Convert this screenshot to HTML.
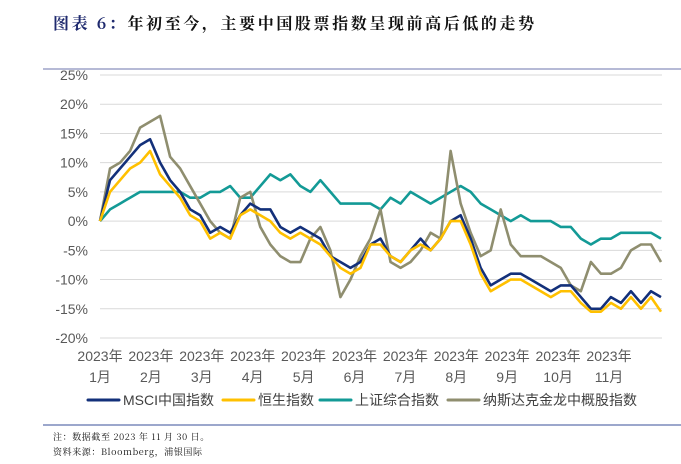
<!DOCTYPE html>
<html><head><meta charset="utf-8">
<style>
body{margin:0;background:#fff;width:681px;height:459px;overflow:hidden;font-family:"Liberation Sans","Noto Sans CJK SC",sans-serif}
svg text{font-family:"Liberation Sans","Noto Sans CJK SC",sans-serif}
</style></head><body>
<svg width="681" height="459">
<text x="53" y="29" font-size="16" font-weight="bold" fill="#1f2a6e" letter-spacing="2.6" style="font-family:'Noto Serif CJK SC',serif">图表 6：<tspan fill="#111">年初至今，主要中国股票指数呈现前高后低的走势</tspan></text>
<line x1="43" y1="69" x2="681" y2="69" stroke="#9da3c8" stroke-width="1.5"/>
<g id="grid"></g><g id="series"></g><g id="xlab"></g>
<g id="legend"></g>
<line x1="43" y1="425" x2="681" y2="425" stroke="#3a4f9a" stroke-width="1"/>
<text x="53" y="440" font-size="9" fill="#111" letter-spacing="0.6" style="font-family:'Noto Serif CJK SC',serif">注：数据截至 2023 年 11 月 30 日。</text>
<text x="53" y="455" font-size="9" fill="#111" letter-spacing="0.6" style="font-family:'Noto Serif CJK SC',serif">资料来源：Bloomberg，浦银国际</text>
</svg>
<script>
const yTicks=[25,20,15,10,5,0,-5,-10,-15,-20];
const months=["1月","2月","3月","4月","5月","6月","7月","8月","9月","10月","11月"];
const msci=[0,7,9,11,13,14,10,7,5,2,1,-2,-1,-2,1,3,2,2,-1,-2,-1,-2,-3,-6,-7,-8,-7,-4,-3,-6,-7,-5,-3,-5,-3,0,1,-3,-8,-11,-10,-9,-9,-10,-11,-12,-11,-11,-13,-15,-15,-13,-14,-12,-14,-12,-13];
const hsi=[0,5,7,9,10,12,8,6,4,1,0,-3,-2,-3,1,2,1,0,-2,-3,-2,-3,-4,-6,-8,-9,-8,-4,-4,-6,-7,-5,-4,-5,-3,0,0,-4,-9,-12,-11,-10,-10,-11,-12,-13,-12,-12,-14,-15.5,-15.5,-14,-15,-13,-15,-13,-15.5];
const shcomp=[0,2,3,4,5,5,5,5,5,4,4,5,5,6,4,4,6,8,7,8,6,5,7,5,3,3,3,3,2,4,3,5,4,3,4,5,6,5,3,2,1,0,1,0,0,0,-1,-1,-3,-4,-3,-3,-2,-2,-2,-2,-3];
const nasdaq=[0,9,10,12,16,17,18,11,9,6,3,0,-2,-3,4,5,-1,-4,-6,-7,-7,-3,-1,-5,-13,-10,-6,-3,2,-7,-8,-7,-5,-2,-3,12,3,-2,-6,-5,2,-4,-6,-6,-6,-7,-8,-11,-12,-7,-9,-9,-8,-5,-4,-4,-7];
const X0=100,X1=661,Y25=75,Y20n=338;
const yS=v=>Y25+(25-v)*(Y20n-Y25)/45;
const xS=(i,n)=>X0+i*(X1-X0)/(n-1);
const NS="http://www.w3.org/2000/svg";
const mk=(t,a,p)=>{const e=document.createElementNS(NS,t);for(const k in a)e.setAttribute(k,a[k]);p.appendChild(e);return e;};
const grid=document.getElementById('grid');
yTicks.forEach(v=>{
 const l=mk('line',{x1:100,x2:662,y1:yS(v),y2:yS(v),stroke:'#d9d9d9','stroke-width':1},grid);
 
 
 const t=mk('text',{x:88,y:yS(v)+5,'text-anchor':'end','font-size':14,fill:'#595959'},grid);
 t.textContent=v+'%';
 
 
});
const xl=document.getElementById('xlab');
months.forEach((m,i)=>{
 const x=100+i*(609-100)/10;
 const t1=mk('text',{x:x,y:361,'text-anchor':'middle','font-size':14,fill:'#595959'},xl);
 t1.textContent='2023年';
 
 
 const t2=mk('text',{x:x,y:382,'text-anchor':'middle','font-size':14,fill:'#595959'},xl);
 t2.textContent=m;
 
 
});
const sg=document.getElementById('series');
const ser=[[shcomp,'#139a96','shanghai-line'],[nasdaq,'#8f8e6f','nasdaq-dragon-line'],[msci,'#13307a','msci-china-line'],[hsi,'#ffc000','hsi-line']];
ser.forEach(([d,c,n])=>{
 const p=mk('polyline',{points:d.map((v,i)=>xS(i,d.length)+','+yS(v)).join(' '),fill:'none',stroke:c,'stroke-width':2.6,'stroke-linejoin':'round'},sg);
 
 
});
const lg=document.getElementById('legend');
const items=[['#13307a','MSCI中国指数',88],['#ffc000','恒生指数',223],['#139a96','上证综合指数',320],['#8f8e6f','纳斯达克金龙中概股指数',448]];
items.forEach(([c,t,x])=>{
 const l=mk('line',{x1:x,x2:x+31,y1:400,y2:400,stroke:c,'stroke-width':3,'stroke-linecap':'round'},lg);
 
 
 const tx=mk('text',{x:x+35,y:405,'font-size':14,fill:'#404040'},lg);
 tx.textContent=t;
 
 
});
</script>
</body></html>
